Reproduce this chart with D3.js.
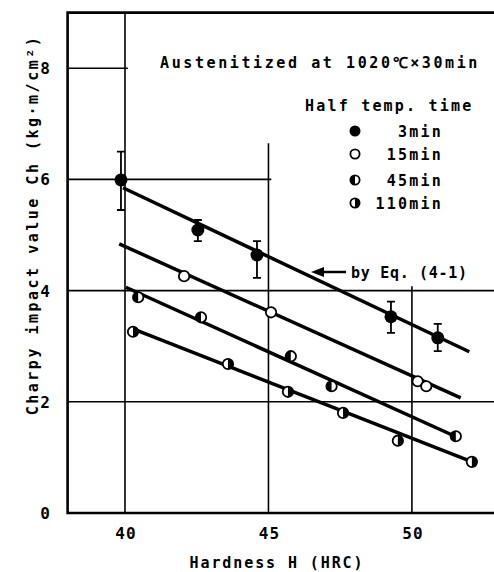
<!DOCTYPE html>
<html>
<head>
<meta charset="utf-8">
<script src="https://cdn.jsdelivr.net/npm/d3@7"></script>
<style>
body{margin:0;background:#fff;}
text{font-family:"DejaVu Sans Mono",monospace;font-weight:bold;fill:#000;}
</style>
</head>
<body>
<svg id="chart" width="494" height="572"></svg>
<script>
// values
var series = ["3min","15min","45min","110min"];
var hard3 = [39.86,42.54,44.6,49.27,50.9];
var ch3 = [5.99,5.09,4.64,3.53,3.15];
var errLo3 = [5.45,4.89,4.23,3.24,2.91];
var errHi3 = [6.5,5.27,4.89,3.8,3.4];
var hard15 = [42.06,45.09,50.2,50.5];
var ch15 = [4.26,3.61,2.37,2.28];
var hard45 = [40.46,42.65,45.78,47.2,51.53];
var ch45 = [3.88,3.52,2.82,2.28,1.38];
var hard110 = [40.28,43.59,45.68,47.6,49.51,52.09];
var ch110 = [3.26,2.68,2.18,1.8,1.3,0.92];
// fitted lines (Eq. 4-1), start and end
var fitX0 = [39.93,39.8,40.03,40.28];
var fitY0 = [5.85,4.84,4.06,3.31];
var fitX1 = [52.0,51.7,51.5,52.1];
var fitY1 = [2.9,2.07,1.38,0.92];
var xTicks = [40,45,50];
var yTicks = [0,2,4,6,8];

var svg=d3.select("#chart");
var x=d3.scaleLinear().domain([38,53]).range([67.6,498]);
var y=d3.scaleLinear().domain([0,9]).range([513,12.6]);

/* stepped grid as in the original */
var gridH=[[8,38,40.1],[6,38,45.1],[4,38,53],[2,38,53]];
var gridV=[[40,0,9],[45,0,6.65],[50,0,4.08]];
svg.selectAll(".gh").data(gridH).enter().append("line")
	.attr("x1",function(d){return x(d[1]);}).attr("x2",function(d){return x(d[2]);})
	.attr("y1",function(d){return y(d[0]);}).attr("y2",function(d){return y(d[0]);})
	.attr("stroke","#000").attr("stroke-width",1.6);
svg.selectAll(".gv").data(gridV).enter().append("line")
	.attr("x1",function(d){return x(d[0]);}).attr("x2",function(d){return x(d[0]);})
	.attr("y1",function(d){return y(d[1]);}).attr("y2",function(d){return y(d[2]);})
	.attr("stroke","#000").attr("stroke-width",1.6);

// frame
svg.append("path").attr("d","M"+x(53)+","+y(9)+"H"+x(38)+"V"+y(0)+"H"+x(53))
	.attr("fill","none").attr("stroke","#000").attr("stroke-width",2.6);

// tick labels
svg.selectAll(".xt").data(xTicks).enter().append("text")
	.attr("x",function(d){return x(d)+1;}).attr("y",539)
	.attr("text-anchor","middle").attr("font-size",16).attr("letter-spacing",1)
	.text(function(d){return d;});
svg.selectAll(".yt").data(yTicks).enter().append("text")
	.attr("x",50).attr("y",function(d){return y(d)+6;})
	.attr("text-anchor","end").attr("font-size",16)
	.text(function(d){return d;});

// axis titles
svg.append("text").attr("x",277).attr("y",568).attr("text-anchor","middle")
	.attr("font-size",15).attr("letter-spacing",1.9).text("Hardness H (HRC)");
svg.append("text").attr("transform","translate(38,225) rotate(-90)").attr("text-anchor","middle")
	.attr("font-size",15).attr("letter-spacing",2.5).text("Charpy impact value Ch (kg·m/cm²)");

// fitted lines
for(var i=0;i<4;i++){
	svg.append("line").attr("x1",x(fitX0[i])).attr("y1",y(fitY0[i]))
		.attr("x2",x(fitX1[i])).attr("y2",y(fitY1[i]))
		.attr("stroke","#000").attr("stroke-width",3.5);
}

// error bars for 3min
for(var i=0;i<hard3.length;i++){
	var cx=x(hard3[i]);
	svg.append("path").attr("d","M"+cx+","+y(errHi3[i])+"V"+y(errLo3[i])+
		"M"+(cx-4)+","+y(errHi3[i])+"H"+(cx+4)+"M"+(cx-4)+","+y(errLo3[i])+"H"+(cx+4))
		.attr("fill","none").attr("stroke","#000").attr("stroke-width",1.8);
}

// markers
function marker(g,cx,cy,r,type){
	if(type==0){
		g.append("circle").attr("cx",cx).attr("cy",cy).attr("r",r).attr("fill","#000");
		return;
	}
	g.append("circle").attr("cx",cx).attr("cy",cy).attr("r",r).attr("fill","#fff")
		.attr("stroke","#000").attr("stroke-width",1.8);
	if(type==2){
		g.append("path").attr("d","M"+cx+","+(cy-r)+"A"+r+","+r+" 0 0 0 "+cx+","+(cy+r)+"Z").attr("fill","#000");
	}
	if(type==3){
		g.append("path").attr("d","M"+cx+","+(cy-r)+"A"+r+","+r+" 0 0 1 "+cx+","+(cy+r)+"Z").attr("fill","#000");
	}
}
var pts=[[hard3,ch3,0,6.5],[hard15,ch15,1,5.2],[hard45,ch45,2,5.2],[hard110,ch110,3,5.2]];
pts.forEach(function(p){
	for(var i=0;i<p[0].length;i++){
		marker(svg,x(p[0][i]),y(p[1][i]),p[3],p[2]);
	}
});

// annotation texts
svg.append("text").attr("x",160).attr("y",68).attr("font-size",15).attr("letter-spacing",2.6)
	.text("Austenitized at 1020℃×30min");
svg.append("text").attr("x",305).attr("y",111).attr("font-size",15).attr("letter-spacing",2.2)
	.text("Half temp. time");
var legY=[131,154,180,203];
series.forEach(function(s,i){
	marker(svg,355,legY[i],i==0?5.5:4.6,i);
	svg.append("text").attr("x",443).attr("y",legY[i]+6).attr("text-anchor","end")
		.attr("font-size",15).attr("letter-spacing",2.2).text(s);
});

// arrow to the fitted line
svg.append("line").attr("x1",322).attr("y1",272).attr("x2",346).attr("y2",272)
	.attr("stroke","#000").attr("stroke-width",2.5);
svg.append("path").attr("d","M311,272L324,267L324,277Z").attr("fill","#000");
svg.append("text").attr("x",351).attr("y",278).attr("font-size",15).attr("letter-spacing",0.7)
	.text("by Eq. (4-1)");
</script>
</body>
</html>
